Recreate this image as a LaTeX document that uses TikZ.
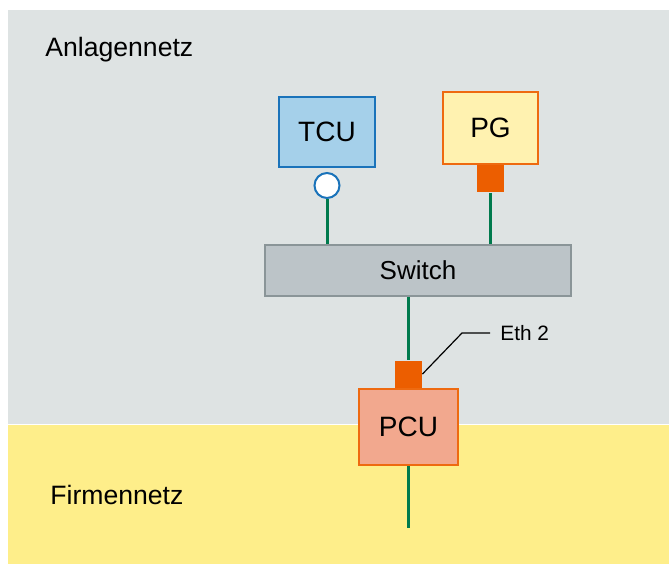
\documentclass[tikz,border=0pt]{standalone}
\usepackage{fontspec}
\setmainfont{Liberation Sans}
\usepackage{tikz}
\usetikzlibrary{shapes,arrows,positioning}
\definecolor{netgray}{HTML}{DEE3E3}
\definecolor{netyellow}{HTML}{FEEE8A}
\definecolor{tcufill}{HTML}{A5D0EA}
\definecolor{tcuedge}{HTML}{1A73BA}
\definecolor{pgfill}{HTML}{FFF2B0}
\definecolor{orangeedge}{HTML}{EE6A10}
\definecolor{portorange}{HTML}{EC5E00}
\definecolor{pcufill}{HTML}{F2A88E}
\definecolor{swfill}{HTML}{BCC4C8}
\definecolor{swedge}{HTML}{8A9598}
\definecolor{linkgreen}{HTML}{007A4D}
\tikzstyle{device} = [rectangle, line width=1pt, inner sep=0pt, font=\fontsize{14}{16}\selectfont]
\tikzstyle{port} = [rectangle, fill=portorange, inner sep=0pt, minimum size=13.5pt]
\tikzstyle{link} = [linkgreen, line width=1.5pt]
\tikzstyle{netlabel} = [anchor=west, inner sep=0pt, font=\fontsize{13.3}{16}\selectfont]

\begin{document}
\begin{tikzpicture}[x=0.5pt, y=-0.5pt]
		\useasboundingbox (0,0) rectangle (669,565);
		\fill [netgray] (8,10) rectangle (669,424);
		\fill [netyellow] (8,425) rectangle (669,564);
		
		\node [netlabel] (anlage) at (45,50) {Anlagennetz};
		\node [netlabel] (firma) at (50,495) {Firmennetz};
		
		\node [device, draw=tcuedge, fill=tcufill, minimum width=48pt, minimum height=35pt] (tcu) at (327,132) {TCU};
		\node [device, draw=orangeedge, fill=pgfill, minimum width=47.5pt, minimum height=36pt] (pg) at (490.5,128) {PG};
		\node [circle, draw=tcuedge, fill=white, line width=1pt, inner sep=0pt, minimum size=12.5pt, below=2pt of tcu.south] (tcuport) {};
		\node [port, below=0pt of pg.south] (pgport) {};
		
		\node [rectangle, draw=swedge, fill=swfill, line width=0.8pt, minimum width=153pt, minimum height=25.5pt, font=\fontsize{13}{15}\selectfont] (switch) at (418,270.5) {Switch};
		
		\node [device, draw=orangeedge, fill=pcufill, minimum width=49.5pt, minimum height=38pt] (pcu) at (408.5,427) {PCU};
		\node [port, above=0pt of pcu.north] (pcuport) {};
		\coordinate (firmaend) at (408.5,528);
		
		\draw [link] (tcuport) -- (tcuport |- switch.north);
		\draw [link] (pgport) -- (pgport |- switch.north);
		\draw [link] (switch.south -| pcuport) -- (pcuport);
		\draw [link] (pcu) -- (firmaend);
		
		\node [anchor=west, inner sep=0pt, font=\fontsize{10.4}{12}\selectfont] (eth) at (500,333) {Eth 2};
		\coordinate (bend) at (462,333);
		\draw [black, line width=0.6pt] (pcuport.east) -- (bend) -- ([xshift=-5pt]eth.west);
		
		\end{tikzpicture}
\end{document}
